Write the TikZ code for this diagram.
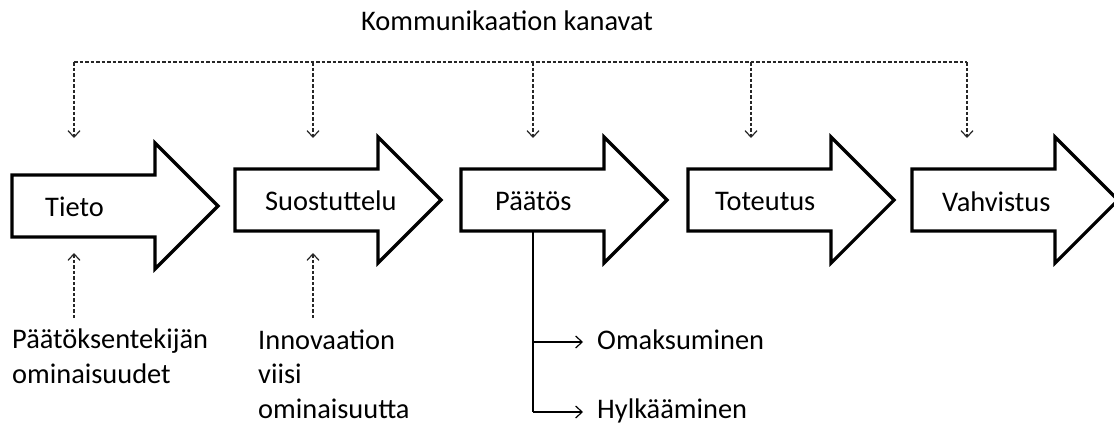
\documentclass[tikz,border=0pt]{standalone}
\usepackage{fontspec}
\setmainfont{Carlito}
\usetikzlibrary{arrows.meta}

% stage arrow: name, left x, body top y, label x, label baseline y, label
\newcommand{\stagearrow}[6]{%
  \draw[stageoutline] (#2,#3) -- ++(143,0) -- ++(0,-32) -- ++(63,63)
    -- ++(-63,63) -- ++(0,-32) -- ++(-143,0) -- cycle;
  \node[lbl, anchor=base west] (#1) at (#4,#5) {#6};
}

\begin{document}
\begin{tikzpicture}[x=1pt, y=-1pt,
  lbl/.style={inner sep=0pt, font=\fontsize{28.4}{34.5}\selectfont, text=black},
  stageoutline/.style={draw=black, line width=3.2pt, line join=miter, fill=white},
  dashline/.style={draw=black!85, line width=1.25pt, dash pattern=on 3.5pt off 2pt},
  tipbarb/.style={-{Straight Barb[length=6.5pt, width=12pt, line width=1.2pt]}},
  solidline/.style={draw=black, line width=1.4pt}]
  \useasboundingbox (0,0) rectangle (1114,426);

  % title
  \node[lbl, anchor=base west] (title) at (361,30) {Kommunikaation kanavat};

  % the five stages
  \stagearrow{tieto}{12}{175}{45}{216}{Tieto}
  \stagearrow{suostuttelu}{235}{169}{265}{210}{Suostuttelu}
  \stagearrow{paatos}{461}{169}{495}{210}{Päätös}
  \stagearrow{toteutus}{688}{169}{715}{210}{Toteutus}
  \stagearrow{vahvistus}{912}{169}{942}{211}{Vahvistus}

  % communication channel bus
  \coordinate (b1) at (74,62);
  \coordinate (b2) at (313,62);
  \coordinate (b3) at (533,62);
  \coordinate (b4) at (751,62);
  \coordinate (b5) at (967,62);
  \coordinate (d1) at (74,138);
  \coordinate (d2) at (313,138);
  \coordinate (d3) at (533,138);
  \coordinate (d4) at (751,138);
  \coordinate (d5) at (967,138);
  \draw[dashline] (b1) -- (b5);
  \foreach \i in {1,...,5} {
    \draw[dashline, tipbarb] (b\i) -- (d\i);
  }

  % influencing factors below (anchored at the last line's baseline)
  \node[lbl, anchor=base west, align=left] (paattaja) at (12,383)
    {Päätöksentekijän\\ominaisuudet};
  \node[lbl, anchor=base west, align=left] (innovaatio) at (258,418)
    {Innovaation\\viisi\\ominaisuutta};
  \coordinate (u1) at (74,318);
  \coordinate (u1t) at (74,253);
  \coordinate (u2) at (313,318);
  \coordinate (u2t) at (313,253);
  \draw[dashline, tipbarb] (u1) -- (u1t);
  \draw[dashline, tipbarb] (u2) -- (u2t);

  % decision outcomes
  \coordinate (p0) at (533,231);
  \coordinate (p1) at (533,342);
  \coordinate (p2) at (533,412);
  \node[lbl, anchor=base west] (omaksu) at (597,349) {Omaksuminen};
  \node[lbl, anchor=base west] (hylkays) at (597,418) {Hylkääminen};
  \draw[solidline] (p0) -- (p2);
  \draw[solidline, tipbarb] (p1) -- ([xshift=-14pt]omaksu.base west |- p1);
  \draw[solidline, tipbarb] (p2) -- ([xshift=-14pt]hylkays.base west |- p2);
\end{tikzpicture}
\end{document}
